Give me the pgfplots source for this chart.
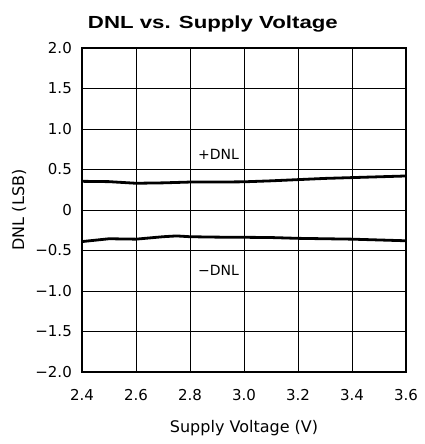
\documentclass[border=0pt]{standalone}
\usepackage{fontspec}
\setmainfont{DejaVu Sans}
\newfontfamily\titlefont{Liberation Sans}
\usepackage{pgfplots}
\pgfplotsset{compat=1.18}
\begin{document}
\begin{tikzpicture}[x=1pt,y=1pt]
\begin{axis}[
  at={(0,0)}, anchor=south west,
  scale only axis, width=324pt, height=324pt,
  xmin=2.4, xmax=3.6, ymin=-2, ymax=2,
  xtick={2.4,2.6,2.8,3.0,3.2,3.4,3.6},
  xticklabels={2.4,2.6,2.8,3.0,3.2,3.4,3.6},
  ytick={-2,-1.5,-1,-0.5,0,0.5,1,1.5,2},
  yticklabels={−2.0,−1.5,−1.0,−0.5,0,0.5,1.0,1.5,2.0},
  grid=major,
  major grid style={black, line width=0.9pt},
  axis line style={black, line width=1.4pt},
  major tick length=0pt,
  tick label style={font=\fontsize{15}{17}\selectfont},
  xticklabel style={anchor=base, yshift=-28pt},
  yticklabel style={anchor=east, inner sep=0pt, xshift=-10pt},
  xlabel={Supply Voltage (V)},
  ylabel={DNL (LSB)},
  label style={font=\fontsize{16}{18}\selectfont},
  xlabel style={at={(axis description cs:0.5,0)}, anchor=base, yshift=-60pt},
  ylabel style={at={(axis description cs:-0.194,0.5)}, anchor=center, rotate=0},
  title={\titlefont\bfseries\scalebox{1.27}[1]{DNL vs. Supply Voltage}},
  title style={font=\fontsize{17.5}{20}\selectfont, at={(axis description cs:0.404,1.043)}, anchor=base},
  clip=false,
]
\addplot[black, line width=2.8pt] coordinates {
(2.4,0.354) (2.5,0.35) (2.6,0.33) (2.7,0.335) (2.8,0.345) (2.9,0.345) (3.0,0.348) (3.1,0.36) (3.2,0.375) (3.3,0.39) (3.4,0.40) (3.5,0.41) (3.6,0.42)
};
\addplot[black, line width=2.8pt] coordinates {
(2.4,-0.39) (2.5,-0.355) (2.6,-0.36) (2.7,-0.33) (2.75,-0.32) (2.8,-0.33) (2.9,-0.335) (3.0,-0.337) (3.1,-0.34) (3.2,-0.35) (3.3,-0.355) (3.4,-0.36) (3.5,-0.37) (3.6,-0.38)
};
\node[font=\fontsize{14}{16}\selectfont, fill=white, inner sep=1pt] at (axis cs:2.906,0.69) {+DNL};
\node[font=\fontsize{14}{16}\selectfont, fill=white, inner sep=1pt] at (axis cs:2.906,-0.74) {−DNL};
\end{axis}
\path (-82,-72) rectangle (342,372);
\end{tikzpicture}
\end{document}
